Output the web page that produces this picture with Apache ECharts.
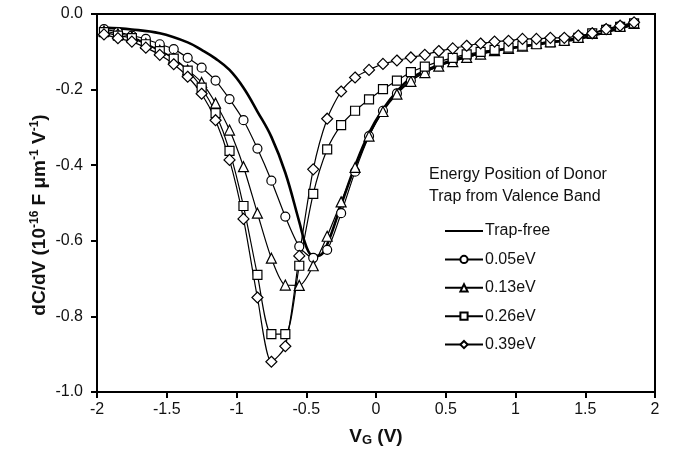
<!DOCTYPE html>
<html><head><meta charset="utf-8">
<script src="https://cdn.jsdelivr.net/npm/echarts@6/dist/echarts.min.js"></script>
<style>html,body{margin:0;padding:0;background:#fff}#c{width:690px;height:461px}</style>
</head><body><div id="c"></div>
<script>
var vg = [-1.95,-1.85,-1.75,-1.65,-1.55,-1.45,-1.35,-1.25,-1.15,-1.05,-0.95,-0.85,-0.75,-0.65,-0.55,-0.45,-0.35,-0.25,-0.15,-0.05,0.05,0.15,0.25,0.35,0.45,0.55,0.65,0.75,0.85,0.95,1.05,1.15,1.25,1.35,1.45,1.55,1.65,1.75,1.85];
var e005 = [-0.040,-0.048,-0.057,-0.066,-0.080,-0.093,-0.116,-0.142,-0.176,-0.225,-0.281,-0.356,-0.441,-0.536,-0.615,-0.645,-0.624,-0.527,-0.417,-0.323,-0.256,-0.210,-0.176,-0.155,-0.138,-0.126,-0.115,-0.106,-0.097,-0.091,-0.085,-0.078,-0.073,-0.069,-0.062,-0.051,-0.040,-0.032,-0.025];
var e013 = [-0.045,-0.052,-0.060,-0.078,-0.096,-0.117,-0.148,-0.181,-0.236,-0.307,-0.404,-0.527,-0.646,-0.717,-0.718,-0.666,-0.588,-0.497,-0.406,-0.323,-0.258,-0.212,-0.178,-0.155,-0.138,-0.126,-0.115,-0.106,-0.097,-0.091,-0.085,-0.078,-0.073,-0.069,-0.062,-0.051,-0.040,-0.032,-0.025];
var e026 = [-0.048,-0.057,-0.064,-0.080,-0.098,-0.118,-0.150,-0.195,-0.262,-0.362,-0.508,-0.690,-0.847,-0.847,-0.666,-0.476,-0.358,-0.294,-0.256,-0.226,-0.199,-0.176,-0.154,-0.139,-0.126,-0.116,-0.107,-0.100,-0.095,-0.089,-0.084,-0.080,-0.075,-0.071,-0.063,-0.051,-0.042,-0.034,-0.025];
var e039 = [-0.054,-0.064,-0.073,-0.089,-0.108,-0.133,-0.166,-0.211,-0.281,-0.386,-0.542,-0.750,-0.920,-0.879,-0.640,-0.411,-0.277,-0.205,-0.168,-0.148,-0.132,-0.123,-0.115,-0.108,-0.098,-0.091,-0.084,-0.078,-0.073,-0.071,-0.066,-0.066,-0.063,-0.063,-0.057,-0.051,-0.040,-0.031,-0.022];
var tfX = [-1.95,-1.75,-1.55,-1.35,-1.25,-1.15,-1.05,-0.95,-0.85,-0.75,-0.65,-0.55,-0.5,-0.45,-0.4,-0.35,-0.25,-0.15,-0.05,0.05,0.15,0.25,0.45,0.65,0.85,1.05,1.25,1.45,1.65,1.85];
var tfY = [-0.036,-0.041,-0.051,-0.075,-0.095,-0.118,-0.148,-0.195,-0.258,-0.325,-0.420,-0.550,-0.615,-0.640,-0.638,-0.610,-0.505,-0.402,-0.315,-0.252,-0.205,-0.170,-0.135,-0.112,-0.097,-0.086,-0.075,-0.066,-0.048,-0.028];
var names = ['Trap-free','0.05eV','0.13eV','0.26eV','0.39eV'];
var xTicks = {min:-2, max:2, step:0.5};
var yTicks = {min:-1, max:0, step:0.2};

function pairs(xs, ys){ return xs.map(function(x,i){return [x, ys[i]];}); }
var FONT = '"Liberation Sans", Arial, sans-serif';
var chart = echarts.init(document.getElementById('c'));
function mk(name, data, sym, size){
  return {name:name, type:'line', data:data, symbol:sym, symbolSize:size, smooth:0.25,
    showAllSymbol:true, lineStyle:{color:'#000', width:1.2},
    itemStyle:{color:'#fff', borderColor:'#000', borderWidth:1.2}, z:3};
}
chart.setOption({
  animation:false,
  backgroundColor:'#fff',
  grid:{left:97, right:35, top:14, bottom:69, show:true, borderColor:'#000', borderWidth:2},
  xAxis:{type:'value', min:xTicks.min, max:xTicks.max, interval:xTicks.step,
    axisLine:{onZero:false, lineStyle:{color:'#000', width:2}}, axisTick:{inside:false, length:6, lineStyle:{color:'#000', width:2}},
    splitLine:{show:false},
    axisLabel:{color:'#111', fontSize:16, fontFamily:FONT, margin:10},
    name:'{a|V}{b|G}{a| (V)}', nameLocation:'middle', nameGap:34,
    nameTextStyle:{rich:{a:{fontSize:19, fontWeight:'bold', fontFamily:FONT, color:'#111'},
                         b:{fontSize:13, fontWeight:'bold', fontFamily:FONT, color:'#111', verticalAlign:'bottom', padding:[8,0,0,0]}}}},
  yAxis:{type:'value', min:yTicks.min, max:yTicks.max, interval:yTicks.step,
    axisLine:{onZero:false, lineStyle:{color:'#000', width:2}}, axisTick:{inside:false, length:6, lineStyle:{color:'#000', width:2}},
    splitLine:{show:false},
    axisLabel:{color:'#111', fontSize:16, fontFamily:FONT, margin:14, formatter:function(v){return v.toFixed(1);}}},
  legend:{orient:'vertical', left:439, top:217, itemWidth:38, itemHeight:9, itemGap:10.4,
    data:[{name:names[0], itemStyle:{opacity:0}}, names[1], names[2], names[3], names[4]],
    textStyle:{fontSize:16, fontFamily:FONT, color:'#111', lineHeight:18, padding:[0,0,0,-3]}},
  graphic:[
    {type:'text', left:429, top:164, style:{text:'Energy Position of Donor\nTrap from Valence Band', font:'16px '+FONT, fill:'#111', lineHeight:22}},
    {type:'text', x:40, y:215, rotation:Math.PI/2, style:{
      text:'{a|dC/dV (10}{s|-16}{a| F μm}{s|-1}{a| V}{s|-1}{a|)}', align:'center', verticalAlign:'middle',
      rich:{a:{fontSize:19, fontWeight:'bold', fontFamily:FONT, fill:'#111', lineHeight:22},
            s:{fontSize:12, fontWeight:'bold', fontFamily:FONT, fill:'#111', verticalAlign:'top', lineHeight:22, padding:[0,0,8,0]}}}}
  ],
  series:[
    {name:names[0], type:'line', data:pairs(tfX, tfY), symbol:'none', smooth:0.4,
      lineStyle:{color:'#000', width:2.6}, itemStyle:{color:'#000'}, z:2},
    mk(names[1], pairs(vg, e005), 'circle', 9),
    mk(names[2], pairs(vg, e013), 'triangle', 10),
    mk(names[3], pairs(vg, e026), 'rect', 9),
    mk(names[4], pairs(vg, e039), 'diamond', 11)
  ]
});
</script></body></html>
